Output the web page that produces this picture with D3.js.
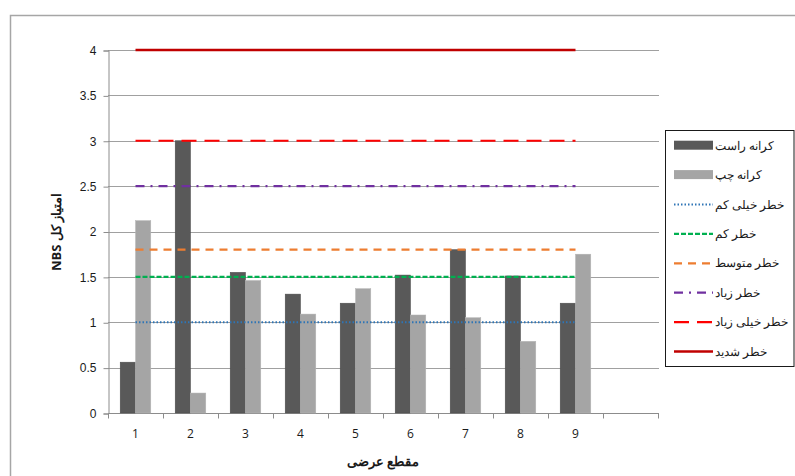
<!DOCTYPE html>
<html>
<head>
<meta charset="utf-8">
<script src="https://cdn.jsdelivr.net/npm/d3@7"></script>
<style>
  html, body { margin: 0; padding: 0; background: #fff; }
  svg { display: block; font-family: "Open Sans", "Liberation Sans", sans-serif; }
</style>
</head>
<body>
<svg id="chart" width="795" height="476"></svg>
<script>
// Cross-sections (the last slot is left empty on the axis)
const categories = ["1", "2", "3", "4", "5", "6", "7", "8", "9", ""];
const sectionIds = ["1", "2", "3", "4", "5", "6", "7", "8", "9"];

// Total NBS score per bank
const rightBank = [0.56, 3.00, 1.55, 1.31, 1.21, 1.52, 1.80, 1.51, 1.21];
const leftBank  = [2.12, 0.22, 1.46, 1.09, 1.37, 1.08, 1.05, 0.79, 1.75];

// Risk thresholds
const thresholdNames  = ["خطر خیلی کم", "خطر کم", "خطر متوسط", "خطر زیاد", "خطر خیلی زیاد", "خطر شدید"];
const thresholdValues = [1, 1.5, 1.8, 2.5, 3, 4];

const yTicks = [0, 0.5, 1, 1.5, 2, 2.5, 3, 3.5, 4];
const barNames = ["کرانه راست", "کرانه چپ"];

const svg = d3.select("#chart");
const W = 795, H = 476;
const plot = { left: 108, right: 658, top: 50, bottom: 413 };

// outer frame
svg.append("rect").attr("x", 10.5).attr("y", 15.5).attr("width", W).attr("height", H)
  .attr("fill", "none").attr("stroke", "#a6a6a6").attr("stroke-width", 1.5);

const x = d3.scaleBand().domain(categories.map((c, i) => i)).range([plot.left, plot.right]).padding(0);
const y = d3.scaleLinear().domain([0, 4]).range([plot.bottom, plot.top]);
const barW = 15.3;

// gridlines
svg.append("g").selectAll("line").data(yTicks.filter(t => t > 0)).join("line")
  .attr("x1", plot.left).attr("x2", plot.right + 1)
  .attr("y1", d => Math.round(y(d)) + 0.5).attr("y2", d => Math.round(y(d)) + 0.5)
  .attr("stroke", "#a0a0a0").attr("stroke-width", 1);

// y axis
const yAxis = d3.axisLeft(y).tickValues(yTicks).tickSize(5).tickPadding(7)
  .tickFormat(d3.format(""));
const gy = svg.append("g").attr("transform", `translate(${plot.left + 0.5},0.5)`).call(yAxis);
gy.select(".domain").attr("stroke", "#8c8c8c");
gy.selectAll(".tick line").attr("stroke", "#8c8c8c");
gy.selectAll(".tick text").attr("font-size", 12).attr("fill", "#1a1a1a");

// x axis
const xLin = d3.scaleLinear().domain([0, categories.length]).range([plot.left, plot.right]);
const gx = svg.append("g").attr("transform", `translate(0,${plot.bottom + 0.5})`);
gx.append("line").attr("x1", plot.left).attr("x2", plot.right + 1).attr("y1", 0).attr("y2", 0)
  .attr("stroke", "#8c8c8c");
gx.selectAll("line.tk").data(d3.range(categories.length + 1)).join("line").attr("class", "tk")
  .attr("x1", d => Math.round(xLin(d)) + 0.5).attr("x2", d => Math.round(xLin(d)) + 0.5)
  .attr("y1", 0).attr("y2", 5).attr("stroke", "#8c8c8c");
gx.selectAll("text").data(categories).join("text")
  .attr("x", (d, i) => x(i) + x.bandwidth() / 2).attr("y", 24)
  .attr("text-anchor", "middle").attr("font-size", 12).attr("fill", "#1a1a1a").text(d => d);

// bars
const center = i => x(i) + x.bandwidth() / 2;
svg.append("g").selectAll("rect").data(rightBank).join("rect")
  .attr("x", (d, i) => center(i) - barW).attr("width", barW)
  .attr("y", d => y(d)).attr("height", d => y(0) - y(d))
  .attr("fill", "#595959").attr("stroke", "#4a4a4a").attr("stroke-width", 0.5);
svg.append("g").selectAll("rect").data(leftBank).join("rect")
  .attr("x", (d, i) => center(i)).attr("width", barW)
  .attr("y", d => y(d)).attr("height", d => y(0) - y(d))
  .attr("fill", "#a5a5a5").attr("stroke", "#b5b5b5").attr("stroke-width", 0.5);

// threshold lines across sections 1..9
const lineStyles = [
  { color: "#2e75b6", width: 2, dash: "1.5,2" },
  { color: "#00b050", width: 2.2, dash: "5,2" },
  { color: "#ed7d31", width: 2.2, dash: "8,6" },
  { color: "#7030a0", width: 2.2, dash: "9,6,2,6" },
  { color: "#ff0000", width: 2.2, dash: "15,8" },
  { color: "#c00000", width: 2.5, dash: null }
];
const line = d3.line().x(d => center(d[0])).y(d => y(d[1]));
thresholdValues.forEach((v, k) => {
  const pts = sectionIds.map((s, i) => [i, v]);
  svg.append("path").attr("d", line(pts)).attr("fill", "none")
    .attr("stroke", lineStyles[k].color).attr("stroke-width", lineStyles[k].width)
    .attr("stroke-dasharray", lineStyles[k].dash);
});

// legend
const lg = svg.append("g");
lg.append("rect").attr("x", 665.5).attr("y", 130.5).attr("width", 128.5).attr("height", 236)
  .attr("fill", "#fff").attr("stroke", "#1a1a1a").attr("stroke-width", 1);
const legendNames = barNames.concat(thresholdNames);
const ly = i => 145.7 + i * 29.4;
legendNames.forEach((name, i) => {
  if (i < 2) {
    lg.append("rect").attr("x", 674).attr("y", ly(i) - 5).attr("width", 39).attr("height", 9)
      .attr("fill", i === 0 ? "#595959" : "#a5a5a5");
  } else {
    const s = lineStyles[i - 2];
    lg.append("line").attr("x1", 674).attr("x2", 713).attr("y1", ly(i)).attr("y2", ly(i))
      .attr("stroke", s.color).attr("stroke-width", s.width).attr("stroke-dasharray", s.dash);
  }
  lg.append("text").attr("x", 715).attr("y", ly(i) + 4).attr("font-size", 12)
    .attr("fill", "#1a1a1a").attr("direction", "rtl").attr("text-anchor", "end").text(name);
});

// axis titles
svg.append("text").attr("transform", "translate(61,232) rotate(-90)")
  .attr("direction", "rtl")
  .attr("text-anchor", "middle").attr("font-size", 13).attr("font-weight", "bold")
  .attr("fill", "#1a1a1a").text("امتیاز کل NBS");
svg.append("text").attr("x", 383).attr("y", 466).attr("direction", "rtl").attr("text-anchor", "middle")
  .attr("font-size", 13).attr("font-weight", "bold").attr("fill", "#1a1a1a").text("مقطع عرضی");
</script>
</body>
</html>
